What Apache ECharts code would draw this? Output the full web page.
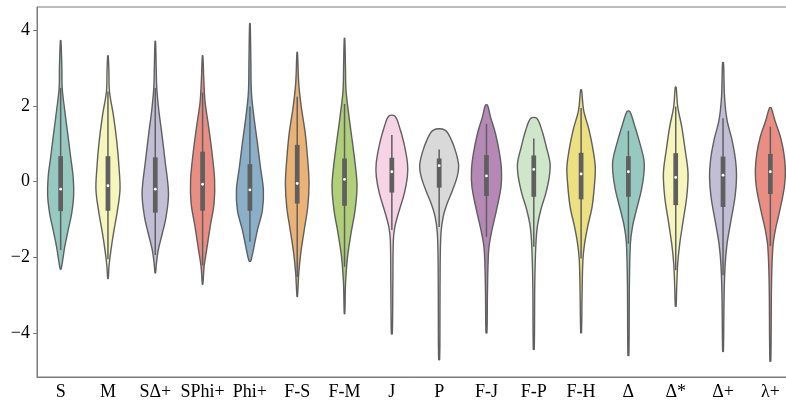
<!DOCTYPE html>
<html>
<head>
<meta charset="utf-8">
<script src="https://cdn.jsdelivr.net/npm/echarts@6/dist/echarts.min.js"></script>
<style>
  html, body { margin: 0; padding: 0; background: #fff; }
  #main { width: 786px; height: 404px; }
</style>
</head>
<body>
<div id="main"></div>
<script>
// categories along the x axis
var categories = ["S", "M", "SΔ+", "SPhi+", "Phi+", "F-S", "F-M", "J", "P", "F-J", "F-P", "F-H", "Δ", "Δ*", "Δ+", "λ+"];

// y tick labels
var yTicks = [-4, -2, 0, 2, 4];

// box stats per violin: [whisker low, q1, median, q3, whisker high]
var boxStats = [
  [-1.81, -0.78, -0.20, 0.67, 2.47],
  [-2.05, -0.77, -0.11, 0.67, 2.38],
  [-1.94, -0.82, -0.20, 0.64, 2.47],
  [-2.21, -0.77, -0.07, 0.79, 2.35],
  [-1.59, -0.77, -0.22, 0.46, 1.98],
  [-2.52, -0.58, -0.05, 0.97, 2.24],
  [-2.25, -0.64, 0.06, 0.61, 2.05],
  [-1.28, -0.29, 0.26, 0.63, 1.23],
  [-1.20, -0.16, 0.42, 0.61, 0.85],
  [-1.46, -0.38, 0.15, 0.70, 1.52],
  [-1.72, -0.40, 0.32, 0.69, 1.14],
  [-2.03, -0.47, 0.20, 0.76, 1.94],
  [-1.64, -0.40, 0.26, 0.67, 1.34],
  [-2.34, -0.62, 0.11, 0.75, 1.98],
  [-2.47, -0.67, 0.17, 0.66, 1.67],
  [-1.70, -0.33, 0.26, 0.73, 1.45]
];

// density outline per violin, top to bottom: [value, half width as fraction of the category band]
var profiles = [
  [[3.72,0.006],[3.04,0.025],[2.47,0.032],[1.89,0.085],[1.28,0.148],[0.65,0.211],[0.12,0.264],[-0.36,0.275],[-0.84,0.233],[-1.28,0.159],[-1.73,0.085],[-2.08,0.042],[-2.31,0.008]],
  [[3.32,0.006],[2.90,0.020],[2.38,0.032],[1.71,0.120],[1.02,0.190],[0.38,0.233],[-0.22,0.254],[-0.84,0.190],[-1.37,0.116],[-1.90,0.053],[-2.25,0.021],[-2.56,0.006]],
  [[3.70,0.006],[3.00,0.020],[2.47,0.032],[1.89,0.074],[1.28,0.137],[0.57,0.205],[-0.31,0.279],[-0.93,0.228],[-1.37,0.148],[-1.81,0.063],[-2.13,0.027],[-2.41,0.006]],
  [[3.32,0.006],[2.70,0.025],[2.10,0.053],[1.45,0.127],[0.75,0.200],[0.04,0.254],[-0.57,0.243],[-1.20,0.159],[-1.81,0.085],[-2.25,0.032],[-2.71,0.006]],
  [[4.17,0.006],[3.20,0.020],[2.35,0.032],[1.71,0.085],[1.02,0.159],[0.38,0.222],[-0.22,0.285],[-0.76,0.264],[-1.28,0.159],[-1.73,0.085],[-1.99,0.042],[-2.10,0.015]],
  [[3.41,0.006],[2.60,0.032],[1.98,0.085],[1.28,0.169],[0.57,0.222],[-0.05,0.250],[-0.67,0.222],[-1.28,0.148],[-1.90,0.074],[-2.43,0.032],[-3.03,0.006]],
  [[3.78,0.006],[3.00,0.020],[2.40,0.032],[1.71,0.095],[1.02,0.169],[0.38,0.233],[-0.14,0.264],[-0.76,0.222],[-1.37,0.137],[-1.99,0.063],[-2.70,0.021],[-3.49,0.006]],
  [[1.73,0.063],[1.45,0.159],[1.02,0.254],[0.49,0.330],[0.13,0.328],[-0.31,0.264],[-0.75,0.159],[-1.20,0.063],[-1.55,0.032],[-2.70,0.021],[-4.02,0.010]],
  [[1.36,0.123],[1.10,0.258],[0.75,0.359],[0.42,0.412],[0.13,0.381],[-0.22,0.285],[-0.58,0.169],[-0.93,0.085],[-1.37,0.038],[-2.25,0.021],[-3.57,0.017],[-4.70,0.010]],
  [[2.02,0.021],[1.71,0.085],[1.27,0.190],[0.75,0.275],[0.30,0.317],[-0.14,0.307],[-0.76,0.211],[-1.28,0.116],[-1.73,0.053],[-2.25,0.032],[-3.00,0.020],[-3.99,0.010]],
  [[1.67,0.063],[1.36,0.169],[0.92,0.264],[0.48,0.344],[0.13,0.328],[-0.31,0.254],[-0.75,0.148],[-1.20,0.074],[-1.72,0.042],[-2.70,0.021],[-4.43,0.010]],
  [[2.42,0.010],[1.89,0.053],[1.36,0.169],[0.83,0.254],[0.38,0.300],[-0.05,0.285],[-0.66,0.233],[-1.20,0.137],[-1.64,0.074],[-2.08,0.038],[-2.96,0.021],[-3.99,0.008]],
  [[1.85,0.032],[1.54,0.116],[1.10,0.222],[0.57,0.328],[0.22,0.328],[-0.22,0.275],[-0.75,0.169],[-1.20,0.085],[-1.64,0.042],[-2.70,0.021],[-4.59,0.010]],
  [[2.49,0.010],[1.98,0.042],[1.45,0.127],[0.83,0.200],[0.22,0.260],[-0.40,0.233],[-1.02,0.159],[-1.64,0.085],[-2.17,0.042],[-2.78,0.021],[-3.29,0.008]],
  [[3.14,0.010],[2.24,0.032],[1.62,0.085],[1.10,0.190],[0.57,0.264],[0.13,0.285],[-0.40,0.254],[-1.02,0.169],[-1.64,0.085],[-2.25,0.042],[-3.13,0.021],[-4.48,0.008]],
  [[1.95,0.017],[1.62,0.095],[1.19,0.211],[0.75,0.285],[0.30,0.317],[-0.14,0.296],[-0.76,0.200],[-1.28,0.106],[-1.73,0.053],[-2.70,0.025],[-4.74,0.010]]
];

// Set3 palette, cycled over the 16 violins
var set3 = ["#8dd3c7", "#ffffb3", "#bebada", "#fb8072", "#80b1d3", "#fdb462",
            "#b3de69", "#fccde5", "#d9d9d9", "#bc80bd", "#ccebc5", "#ffed6f"];

// seaborn-style desaturation (scale HLS saturation)
function desaturate(hex, prop) {
  var r = parseInt(hex.substr(1, 2), 16) / 255;
  var g = parseInt(hex.substr(3, 2), 16) / 255;
  var b = parseInt(hex.substr(5, 2), 16) / 255;
  var max = Math.max(r, g, b), min = Math.min(r, g, b);
  var l = (max + min) / 2, s = 0, h = 0, d = max - min;
  if (d > 0) {
    s = l > 0.5 ? d / (2 - max - min) : d / (max + min);
    if (max === r) h = ((g - b) / d) % 6;
    else if (max === g) h = (b - r) / d + 2;
    else h = (r - g) / d + 4;
    h /= 6;
    if (h < 0) h += 1;
  }
  s *= prop;
  function hue(p, q, t) {
    if (t < 0) t += 1;
    if (t > 1) t -= 1;
    if (t < 1 / 6) return p + (q - p) * 6 * t;
    if (t < 1 / 2) return q;
    if (t < 2 / 3) return p + (q - p) * (2 / 3 - t) * 6;
    return p;
  }
  var q = l < 0.5 ? l * (1 + s) : l + s - l * s;
  var p = 2 * l - q;
  var out = [hue(p, q, h + 1 / 3), hue(p, q, h), hue(p, q, h - 1 / 3)];
  return "rgb(" + out.map(function (v) { return Math.round(v * 255); }).join(",") + ")";
}

var lineGray = "#5f5f5f";
var spineGray = "#7a7a7a";

var chart = echarts.init(document.getElementById("main"));

var option = {
  animation: false,
  grid: {
    left: 37,
    top: 7,
    bottom: 27,
    width: 757,
    containLabel: false,
    outerBoundsMode: "none",
    show: true,
    borderColor: spineGray,
    borderWidth: 1
  },
  xAxis: {
    type: "category",
    data: categories,
    boundaryGap: true,
    axisLine: { onZero: false, lineStyle: { color: spineGray, width: 1 } },
    axisTick: { alignWithLabel: true, length: 4, lineStyle: { color: spineGray } },
    axisLabel: {
      color: "#000",
      fontFamily: "Liberation Serif",
      fontSize: 18,
      margin: 6,
      interval: 0,
      hideOverlap: false
    },
    splitLine: { show: false }
  },
  yAxis: {
    type: "value",
    min: -5.16,
    max: 4.61,
    axisLine: { show: true, onZero: false, lineStyle: { color: spineGray, width: 1 } },
    axisTick: { show: true, length: 4, customValues: yTicks, lineStyle: { color: spineGray } },
    axisLabel: {
      color: "#000",
      fontFamily: "Liberation Serif",
      fontSize: 18,
      margin: 7,
      customValues: yTicks,
      formatter: function (v) { return String(v).replace("-", "\u2212"); }
    },
    splitLine: { show: false }
  },
  series: [
    {
      type: "custom",
      data: categories.map(function (c, i) { return [i]; }),
      renderItem: function (params, api) {
        var i = api.value(0);
        var prof = profiles[i];
        var st = boxStats[i];
        var band = api.size([1, 0])[0];
        var cx = api.coord([i, 0])[0];
        var yOf = function (v) { return api.coord([i, v])[1]; };
        var right = prof.map(function (p) { return [cx + p[1] * band, yOf(p[0])]; });
        var left = prof.slice().reverse().map(function (p) { return [cx - p[1] * band, yOf(p[0])]; });
        var pts = right.concat(left);
        var boxW = 0.1 * band;
        return {
          type: "group",
          children: [
            {
              type: "polygon",
              shape: { points: pts, smooth: 0.35 },
              style: { fill: desaturate(set3[i % set3.length], 0.75), stroke: lineGray, lineWidth: 1.4 }
            },
            {
              type: "line",
              shape: { x1: cx, y1: yOf(st[0]), x2: cx, y2: yOf(st[4]) },
              style: { stroke: lineGray, lineWidth: 1.5 }
            },
            {
              type: "rect",
              shape: { x: cx - boxW / 2, y: yOf(st[3]), width: boxW, height: yOf(st[1]) - yOf(st[3]) },
              style: { fill: lineGray }
            },
            {
              type: "circle",
              shape: { cx: cx, cy: yOf(st[2]), r: 1.4 },
              style: { fill: "#fff" }
            }
          ]
        };
      }
    }
  ]
};

chart.setOption(option);
</script>
</body>
</html>
